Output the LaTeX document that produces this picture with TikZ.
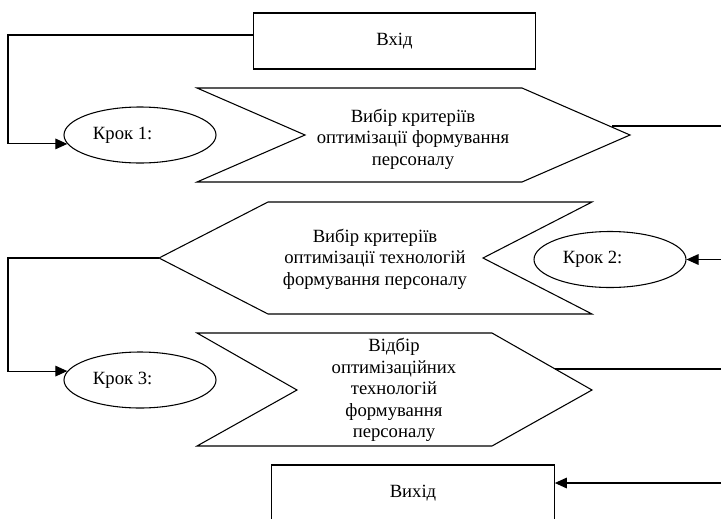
\documentclass[tikz,border=0pt]{standalone}
\usepackage{fontspec}
\setmainfont{Liberation Serif}
\usetikzlibrary{arrows.meta,shapes.geometric}

\begin{document}
\begin{tikzpicture}[x=0.75pt, y=-0.75pt, line width=0.8pt,
    font=\fontsize{14}{16.1}\selectfont,
    box/.style={draw, rectangle, minimum width=212pt, minimum height=42pt, inner sep=0pt},
    stepnode/.style={draw, ellipse, minimum width=114pt, minimum height=42pt, inner sep=0pt,
        execute at end node={\kern26pt}},
    txt/.style={align=center, inner sep=0pt},
    link/.style={-{Triangle[length=9pt, width=8pt]}}]
    \useasboundingbox (0,0) rectangle (721,518);
    \clip (0,0) rectangle (721,518);

    % Input and output
    \node[box] (in) at (394.5,41) {Вхід};
    \node[box] (out) at (413,493) {Вихід};

    % Steps
    \node[stepnode] (s1) at (140,135) {Крок 1:};
    \node[stepnode] (s2) at (610,259.5) {Крок 2:};
    \node[stepnode] (s3) at (140,380) {Крок 3:};

    % Criteria of optimisation
    \draw (197,88) -- (522,88) -- (630,135) -- (522,182) -- (197,182) -- (305,135) -- cycle;
    \node[txt] (crit) at (413,139) {Вибір критеріїв\\оптимізації формування\\персоналу};
    \coordinate (crit out) at (612,126);

    % Criteria of technologies
    \draw (159,258) -- (268,202) -- (592,202) -- (483,258) -- (592,314) -- (268,314) -- cycle;
    \node[txt] (tech) at (375,259) {Вибір критеріїв\\оптимізації технологій\\формування персоналу};
    \coordinate (tech out) at (159,258);

    % Selection of technologies
    \draw (197,333) -- (492,333) -- (592,390) -- (492,446) -- (197,446) -- (297,390) -- cycle;
    \node[txt] (sel) at (394,390) {Відбір\\оптимізаційних\\технологій\\формування\\персоналу};
    \coordinate (sel out) at (555,369);

    % Side rails
    \coordinate (left) at (8,0);
    \coordinate (right) at (725,0);
    \coordinate (in out) at ([yshift=4.5pt]in.west);
    \coordinate (out in) at ([yshift=7.5pt]out.east);

    % Connectors
    \draw[link] (in out) -| (left |- s1.187) -- (s1.187);
    \draw[link] (crit out) -| (right |- s2.east) -- (s2.east);
    \draw[link] (tech out) -| (left |- s3.173) -- (s3.173);
    \draw[link] (sel out) -| (right |- out in) -- (out in);
\end{tikzpicture}
\end{document}
